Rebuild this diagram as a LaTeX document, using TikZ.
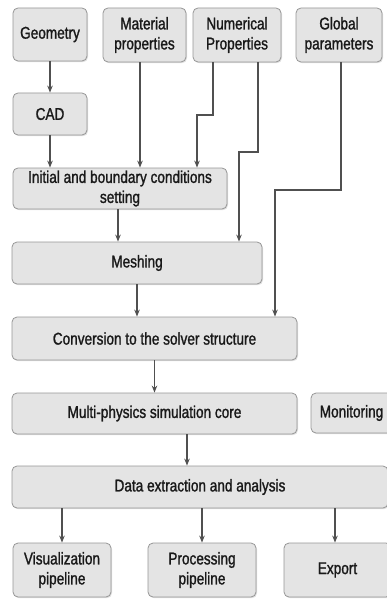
\documentclass[tikz,border=0pt]{standalone}
\usepackage{fontspec}
\setmainfont{Liberation Sans}[FakeStretch=0.8, FakeBold=1.3]
\usetikzlibrary{arrows.meta, shadows}
\definecolor{boxfill}{RGB}{228, 228, 228}
\definecolor{boxline}{RGB}{150, 150, 150}
\definecolor{flowline}{RGB}{80, 80, 80}

\begin{document}
\begin{tikzpicture}[x=1pt, y=-1pt,
                block/.style={rectangle, draw=boxline, fill=boxfill, rounded corners=5pt, line width=0.8pt, inner sep=0pt, align=center, text=black!90,
                    font=\fontsize{17}{20}\selectfont, drop shadow={opacity=0.25, shadow xshift=1pt, shadow yshift=-1.2pt}},
                flow/.style={draw=flowline, line width=1.4pt, -{Stealth[length=7pt, width=5.5pt]}}
            ]
                \useasboundingbox (0,0) rectangle (387,599);

                \node[block, minimum width=74pt, minimum height=53pt] (geo) at (50, 34.5) {Geometry};
                \node[block, minimum width=83pt, minimum height=54pt] (mat) at (144.5, 35) {Material\\properties};
                \node[block, minimum width=88pt, minimum height=54pt] (num) at (237, 35) {Numerical\\Properties};
                \node[block, minimum width=86pt, minimum height=54pt] (glob) at (339, 35) {Global\\parameters};
                \node[block, minimum width=74pt, minimum height=42pt] (cad) at (50, 114) {CAD};
                \node[block, minimum width=214pt, minimum height=41pt] (init) at (120, 188.5) {Initial and boundary conditions\\setting};
                \node[block, minimum width=250pt, minimum height=42pt] (mesh) at (137, 263) {Meshing};
                \node[block, minimum width=285pt, minimum height=43pt] (conv) at (154.5, 338.5) {Conversion to the solver structure};
                \node[block, minimum width=285pt, minimum height=41pt] (core) at (154.5, 413.5) {Multi-physics simulation core};
                \node[block, minimum width=81pt, minimum height=40pt] (mon) at (351.5, 413) {Monitoring};
                \node[block, minimum width=376pt, minimum height=42pt] (data) at (200, 487) {Data extraction and analysis};
                \node[block, minimum width=98pt, minimum height=54pt] (vis) at (62, 570) {Visualization\\pipeline};
                \node[block, minimum width=108pt, minimum height=54pt] (proc) at (202, 570) {Processing\\pipeline};
                \node[block, minimum width=107pt, minimum height=54pt] (exp) at (337.5, 570) {Export};

                \draw[flow] (geo) -- (cad);
                \draw[flow] (cad) -- (init.north -| cad.south);
                \draw[flow] (mat.south -| 140,0) -- (init.north -| 140,0);
                \draw[flow] (num.south -| 213,0) -- (213,115) -- (197,115) -- (init.north -| 197,0);
                \draw[flow] (num.south -| 258,0) -- (258,152) -- (239,152) -- (mesh.north -| 239,0);
                \draw[flow] (glob.south -| 341,0) -- (341,190) -- (275,190) -- (conv.north -| 275,0);
                \draw[flow] (init.south -| 118,0) -- (mesh.north -| 118,0);
                \draw[flow] (mesh.south -| 137,0) -- (conv.north -| 137,0);
                \draw[flow] (conv) -- (core);
                \draw[flow] (core.south -| 187,0) -- (data.north -| 187,0);
                \draw[flow] (data.south -| vis.north) -- (vis);
                \draw[flow] (data.south -| proc.north) -- (proc);
                \draw[flow] (data.south -| 335,0) -- (exp.north -| 335,0);
            \end{tikzpicture}
\end{document}
